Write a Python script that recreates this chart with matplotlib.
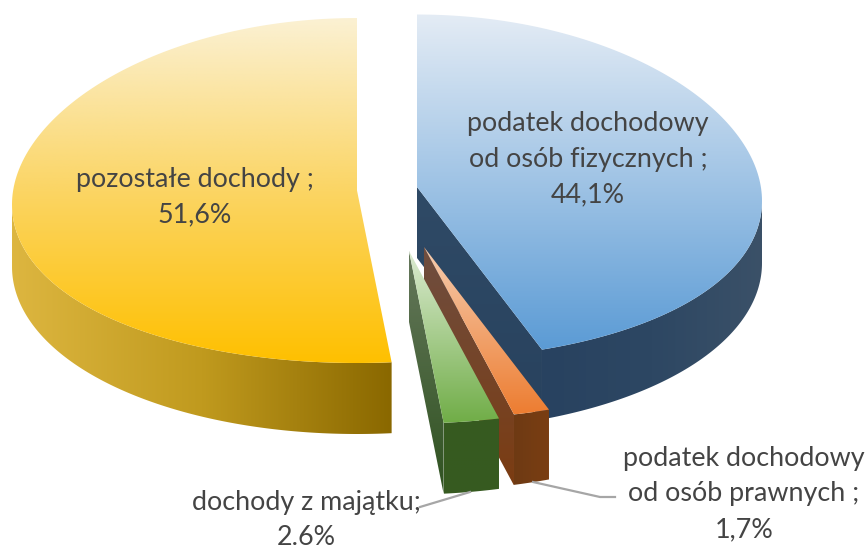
import matplotlib
matplotlib.use('Agg')
import matplotlib.pyplot as plt
import numpy as np
from matplotlib.colors import LinearSegmentedColormap
from matplotlib.path import Path
from matplotlib.patches import PathPatch

# udzialy w dochodach (%)
names = ['podatek dochodowy od osób fizycznych', 'podatek dochodowy od osób prawnych',
         'dochody z majątku', 'pozostałe dochody']
shares = [44.1, 1.7, 2.6, 51.6]
label_texts = ['podatek dochodowy\nod osób fizycznych ;\n44,1%',
               'podatek dochodowy\nod osób prawnych ;\n1,7%',
               'dochody z majątku;\n2.6%',
               'pozostałe dochody ;\n51,6%']

RX, RY, DEPTH = 345, 172.5, 71
W, H = 868, 549
TEXT_COLOR = '#444444'

plt.rcParams['font.family'] = ['Lato', 'DejaVu Sans']
fig = plt.figure(figsize=(W / 100, H / 100), dpi=100)
ax = fig.add_axes([0, 0, 1, 1])
ax.axis('off')

counter = [0]


def next_order():
    counter[0] += 1
    return counter[0]


# punkty na elipsie, kat liczony od godziny 12 zgodnie z zegarem
# sag - lekkie obnizenie bokow, jak w perspektywie wykresu 3D
def arc(center, a0, a1, dy=0, sag=14):
    t = np.radians(np.linspace(a0, a1, 160))
    return np.column_stack([center[0] + RX * np.sin(t),
                            center[1] - RY * np.cos(t) + dy + sag * np.sin(t) ** 2])


# wypelnienie wielokata gradientem
def shade(pts, colors, vertical=True):
    path = Path(np.vstack([pts, pts[:1]]), closed=True)
    x0, y0 = pts.min(axis=0)
    x1, y1 = pts.max(axis=0)
    grad = np.linspace(0, 1, 256)
    grad = grad.reshape(-1, 1) if vertical else grad.reshape(1, -1)
    cmap = LinearSegmentedColormap.from_list('g', colors)
    im = ax.imshow(grad, cmap=cmap, extent=(x0, x1, y1, y0), origin='upper',
                   aspect='auto', interpolation='bilinear', zorder=next_order())
    im.set_clip_path(PathPatch(path, transform=ax.transData))


def wedge(center, a0, a1):
    return np.vstack([[center], arc(center, a0, a1)])


def rim(center, a0, a1):
    return np.vstack([arc(center, a0, a1), arc(center, a1, a0, DEPTH, sag=5)])


def cut_face(center, a):
    p = arc(center, a, a)[0]
    return np.array([center, (center[0], center[1] + DEPTH), (p[0], p[1] + DEPTH), p])


edges = np.cumsum([0] + [s * 3.6 for s in shares])
c_blue, c_orange, c_green, c_yellow = (417, 187), (424, 247), (409, 251), (357, 190.5)

# pozostale dochody
shade(rim(c_yellow, edges[3], 270), ['#DDB640', '#C09A1E', '#8A6800'], vertical=False)
shade(wedge(c_yellow, edges[3], 360), ['#FBF1D3', '#FBD564', '#FFC000'])

# podatek od osob fizycznych
shade(rim(c_blue, 90, edges[1]), ['#284260', '#2D4763', '#3B5168'], vertical=False)
shade(cut_face(c_blue, edges[1]), ['#2F4A66', '#28425E'])
shade(wedge(c_blue, 0, edges[1]), ['#E4ECF5', '#5B9BD5'])

# podatek od osob prawnych
shade(cut_face(c_orange, edges[2]), ['#6F4E40', '#7B3C12'])
shade(rim(c_orange, edges[1], edges[2]), ['#6E3A14', '#7A3E12'], vertical=False)
shade(wedge(c_orange, edges[1], edges[2]), ['#F6CDB0', '#ED7D31'])

# dochody z majatku
shade(cut_face(c_green, edges[3]), ['#66785C', '#2F5220'])
shade(rim(c_green, edges[2], edges[3]), ['#375A20', '#365B20'], vertical=False)
shade(wedge(c_green, edges[2], edges[3]), ['#DCEBD2', '#70AD47'])

ax.set_xlim(0, W)
ax.set_ylim(H, 0)

# linie odniesienia
ax.plot([470, 420], [492, 507], color='#A6A6A6', lw=1.6, zorder=50)
ax.plot([533, 600, 615], [482, 497, 497], color='#A6A6A6', lw=1.6, zorder=50)

# etykiety
label_pos = [(588, 159), (744, 494), (306, 520), (195, 197)]
for txt, (x, y) in zip(label_texts, label_pos):
    ax.text(x, y, txt, ha='center', va='center', fontsize=19.4, color=TEXT_COLOR,
            linespacing=1.53, zorder=60)

fig.savefig('out.png', dpi=100)
